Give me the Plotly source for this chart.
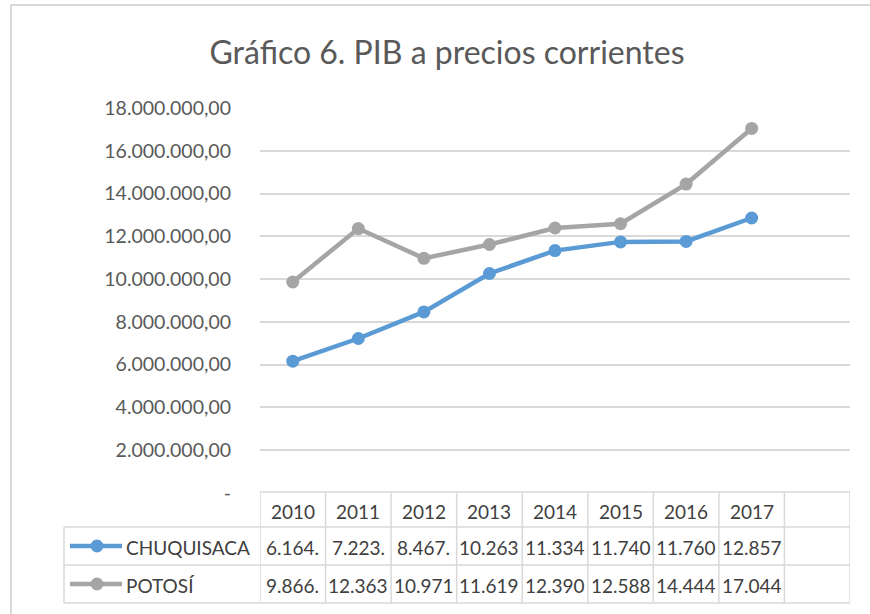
import plotly.graph_objects as go

years = [2010, 2011, 2012, 2013, 2014, 2015, 2016, 2017]
chuquisaca = [6164000, 7223000, 8467000, 10263000, 11334000, 11740000, 11760000, 12857000]
potosi = [9866000, 12363000, 10971000, 11619000, 12390000, 12588000, 14444000, 17044000]
series_names = ["CHUQUISACA", "POTOSÍ"]
colors = ["#5B9BD5", "#A5A5A5"]
y_ticks = [0, 2e6, 4e6, 6e6, 8e6, 10e6, 12e6, 14e6, 16e6, 18e6]
title = "Gráfico 6. PIB a precios corrientes"

W, H = 870, 614
FONT = "Lato"
GRID = "#D9D9D9"
TXT = "#404040"
TS = 19


def py(p):
    return 1 - p / H


def px(p):
    return p / W


def fmt(v):
    s = f"{v:,.2f}"
    return s.replace(",", "X").replace(".", ",").replace("X", ".")


def tick_label(v):
    return "-" if v == 0 else fmt(v)


fig = go.Figure()
for name, vals, c in zip(series_names, [chuquisaca, potosi], colors):
    fig.add_trace(go.Scatter(
        x=years, y=vals, name=name, mode="lines+markers",
        line=dict(color=c, width=4.5),
        marker=dict(color=c, size=13),
        showlegend=False,
    ))

shapes = []
annotations = []
lc = dict(color=GRID, width=1.5)
# outer chart frame
shapes.append(dict(type="rect", xref="paper", yref="paper",
                   x0=px(11), x1=px(900), y0=py(5), y1=py(700),
                   line=dict(color=GRID, width=2)))
# table lines
x_lo, x_hi = years[0] - 0.5, years[-1] + 1.5
shapes.append(dict(type="line", xref="x", yref="paper", x0=x_lo, x1=x_hi,
                   y0=py(492), y1=py(492), line=lc))
for yy in [527, 565, 603]:
    shapes.append(dict(type="line", xref="paper", yref="paper", x0=px(64), x1=px(850),
                       y0=py(yy), y1=py(yy), line=lc))
shapes.append(dict(type="line", xref="paper", yref="paper", x0=px(64), x1=px(64),
                   y0=py(527), y1=py(603), line=lc))
for k in range(len(years) + 2):
    xv = x_lo + k
    shapes.append(dict(type="line", xref="x", yref="paper", x0=xv, x1=xv,
                       y0=py(492), y1=py(603), line=lc))

# header years
for yr in years:
    annotations.append(dict(x=yr, y=py(511), xref="x", yref="paper", text=str(yr),
                            showarrow=False, font=dict(family=FONT, size=TS, color=TXT),
                            xanchor="center", yanchor="middle"))
# rows
row_y = [547, 585]
for name, vals, c, ry in zip(series_names, [chuquisaca, potosi], colors, row_y):
    shapes.append(dict(type="line", xref="paper", yref="paper", x0=px(70), x1=px(122),
                       y0=py(ry - 1), y1=py(ry - 1), line=dict(color=c, width=4.5)))
    shapes.append(dict(type="circle", xref="paper", yref="paper",
                       x0=px(97 - 6.5), x1=px(97 + 6.5), y0=py(ry - 7.5), y1=py(ry + 5.5),
                       fillcolor=c, line=dict(color=c, width=0)))
    annotations.append(dict(x=px(124), y=py(ry), xref="paper", yref="paper", text=name,
                            showarrow=False, font=dict(family=FONT, size=TS, color=TXT),
                            xanchor="left", yanchor="middle"))
    for yr, v in zip(years, vals):
        annotations.append(dict(x=yr, y=py(ry), xref="x", yref="paper", text=fmt(v)[:6],
                                showarrow=False, font=dict(family=FONT, size=TS, color=TXT),
                                xanchor="center", yanchor="middle"))

fig.update_layout(
    width=W, height=H,
    margin=dict(l=0, r=0, t=0, b=0, autoexpand=False),
    paper_bgcolor="white", plot_bgcolor="white",
    title=dict(text=title, x=px(447), xanchor="center", y=py(53), yanchor="middle",
               font=dict(family=FONT, size=32, color="#595959")),
    xaxis=dict(domain=[px(260), px(850)], range=[x_lo, x_hi], automargin=False,
               showticklabels=False, showgrid=False, zeroline=False, showline=False),
    yaxis=dict(domain=[py(493), py(108)], range=[0, 18e6], automargin=False,
               tickvals=y_ticks, ticktext=[tick_label(v) for v in y_ticks],
               tickfont=dict(family=FONT, size=19.5, color="#595959"),
               ticklabelstandoff=28,
               showgrid=True, gridcolor=GRID, gridwidth=1.5,
               zeroline=False, showline=False),
    shapes=shapes, annotations=annotations,
)
fig.write_html("out.html", config={"displayModeBar": False},
               post_script="document.body.style.margin='0';")
